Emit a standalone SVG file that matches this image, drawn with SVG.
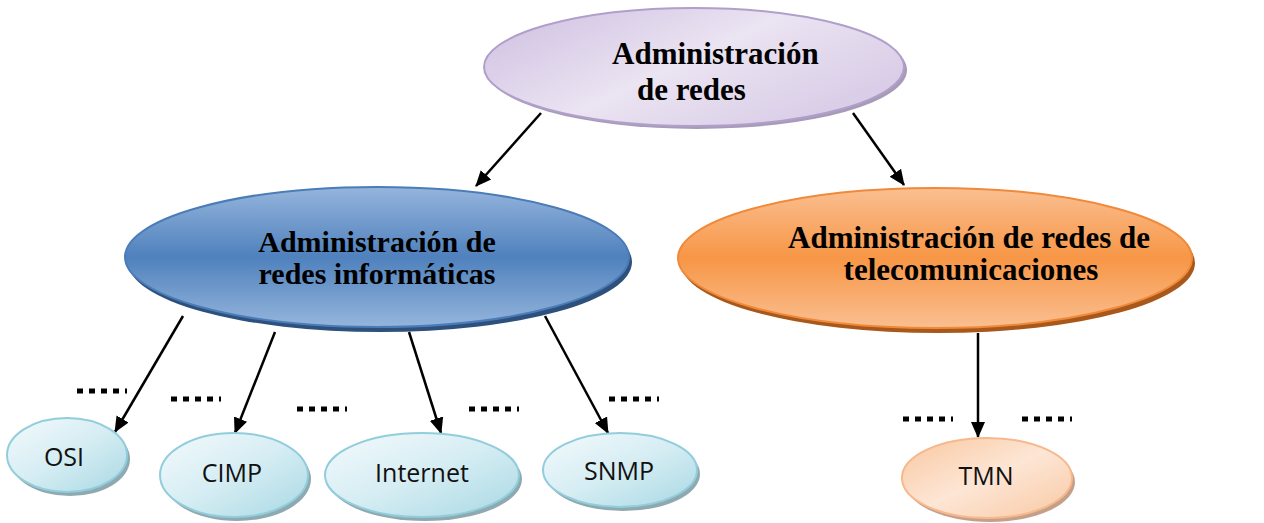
<svg xmlns="http://www.w3.org/2000/svg" width="1264" height="523" viewBox="0 0 1264 523">
<style>
.big{font-family:"Liberation Serif","Times New Roman",serif;font-weight:bold;font-size:31px;fill:#000}
.small{font-family:"Open Sans","Liberation Sans",sans-serif;font-size:25px;fill:#111;text-anchor:middle}
.conn{stroke:#000;stroke-width:2.5;fill:none;marker-end:url(#ah)}
.dots{stroke:#000;stroke-width:5;stroke-dasharray:6 6;fill:none}
.cyan{fill:url(#gCyan);stroke:#92cddc;stroke-width:2}
.cyansh{fill:#8ea9b0}
</style>
<defs>
<marker id="ah" viewBox="0 0 16 16" refX="15" refY="8" markerWidth="16" markerHeight="16" markerUnits="userSpaceOnUse" orient="auto">
<path d="M0,1 L16,8 L0,15 Z" fill="#000"/>
</marker>
<linearGradient id="gTop" x1="0" y1="0" x2="1" y2="0.6">
<stop offset="0" stop-color="#cdbde0"/>
<stop offset="0.55" stop-color="#ebe4f2"/>
<stop offset="1" stop-color="#d9cde7"/>
</linearGradient>
<linearGradient id="gBlue" x1="0" y1="0" x2="0" y2="1">
<stop offset="0" stop-color="#95b5dc"/>
<stop offset="0.5" stop-color="#4f81bd"/>
<stop offset="1" stop-color="#95b5dc"/>
</linearGradient>
<linearGradient id="gOrange" x1="0" y1="0" x2="0" y2="1">
<stop offset="0" stop-color="#fabf91"/>
<stop offset="0.5" stop-color="#f79646"/>
<stop offset="1" stop-color="#fabf91"/>
</linearGradient>
<linearGradient id="gCyan" x1="0" y1="0" x2="1" y2="1">
<stop offset="0" stop-color="#f4fafc"/>
<stop offset="0.5" stop-color="#d5edf3"/>
<stop offset="1" stop-color="#a9d8e4"/>
</linearGradient>
<linearGradient id="gPeach" x1="0" y1="0" x2="1" y2="1">
<stop offset="0" stop-color="#f9c7a0"/>
<stop offset="0.5" stop-color="#fde6d5"/>
<stop offset="1" stop-color="#f8c8a3"/>
</linearGradient>
</defs>

<g id="connectors">
<line class="conn" x1="541" y1="113" x2="476" y2="186"/>
<line class="conn" x1="853" y1="113" x2="904" y2="185"/>
<line class="conn" x1="183" y1="316" x2="115" y2="432"/>
<line class="conn" x1="275" y1="332" x2="235" y2="433"/>
<line class="conn" x1="409" y1="332" x2="441" y2="433"/>
<line class="conn" x1="545" y1="316" x2="608" y2="433"/>
<line class="conn" x1="978" y1="333" x2="978" y2="437"/>
</g>

<g id="dotmarks">
<line class="dots" x1="77" y1="391" x2="127" y2="391"/>
<line class="dots" x1="171" y1="399" x2="221" y2="399"/>
<line class="dots" x1="297" y1="409" x2="347" y2="409"/>
<line class="dots" x1="469" y1="409" x2="519" y2="409"/>
<line class="dots" x1="609" y1="399" x2="659" y2="399"/>
<line class="dots" x1="903" y1="419" x2="953" y2="419"/>
<line class="dots" x1="1022" y1="419" x2="1072" y2="419"/>
</g>

<g id="node-root">
<ellipse cx="697" cy="70" rx="210" ry="59" fill="#a89bb8"/>
<ellipse cx="694" cy="67" rx="210" ry="59" fill="url(#gTop)" stroke="#b09fcb" stroke-width="2"/>
<text class="big" x="612" y="64">Administración</text>
<text class="big" x="637" y="100">de redes</text>
</g>

<g id="node-informaticas">
<ellipse cx="380" cy="262" rx="252" ry="70" fill="#2e507c"/>
<ellipse cx="377" cy="257" rx="252" ry="70" fill="url(#gBlue)" stroke="#4a7cb8" stroke-width="2"/>
<text class="big" x="377" y="252" text-anchor="middle" style="font-size:30px">Administración de</text>
<text class="big" x="377" y="284" text-anchor="middle" style="font-size:30px">redes informáticas</text>
</g>

<g id="node-telecom">
<ellipse cx="938" cy="263" rx="257" ry="70" fill="#a9581c"/>
<ellipse cx="935" cy="258" rx="257" ry="70" fill="url(#gOrange)" stroke="#f08a3a" stroke-width="2"/>
<text class="big" x="969" y="248" text-anchor="middle">Administración de redes de</text>
<text class="big" x="971" y="280" text-anchor="middle">telecomunicaciones</text>
</g>

<g id="node-osi">
<ellipse class="cyansh" cx="70" cy="459" rx="60" ry="37"/>
<ellipse class="cyan" cx="67" cy="455" rx="60" ry="37"/>
<text class="small" x="64" y="466">OSI</text>
</g>

<g id="node-cimp">
<ellipse class="cyansh" cx="237" cy="479" rx="74" ry="42"/>
<ellipse class="cyan" cx="234" cy="475" rx="74" ry="42"/>
<text class="small" x="232" y="482">CIMP</text>
</g>

<g id="node-internet">
<ellipse class="cyansh" cx="425" cy="479" rx="97" ry="42"/>
<ellipse class="cyan" cx="422" cy="475" rx="97" ry="42"/>
<text class="small" x="422" y="482">Internet</text>
</g>

<g id="node-snmp">
<ellipse class="cyansh" cx="623" cy="474" rx="77" ry="37"/>
<ellipse class="cyan" cx="620" cy="470" rx="77" ry="37"/>
<text class="small" x="619" y="480">SNMP</text>
</g>

<g id="node-tmn">
<ellipse cx="990" cy="482" rx="85" ry="40" fill="#c4a08a"/>
<ellipse cx="987" cy="478" rx="85" ry="40" fill="url(#gPeach)" stroke="#f6b88c" stroke-width="2"/>
<text class="small" x="986" y="485">TMN</text>
</g>
</svg>
